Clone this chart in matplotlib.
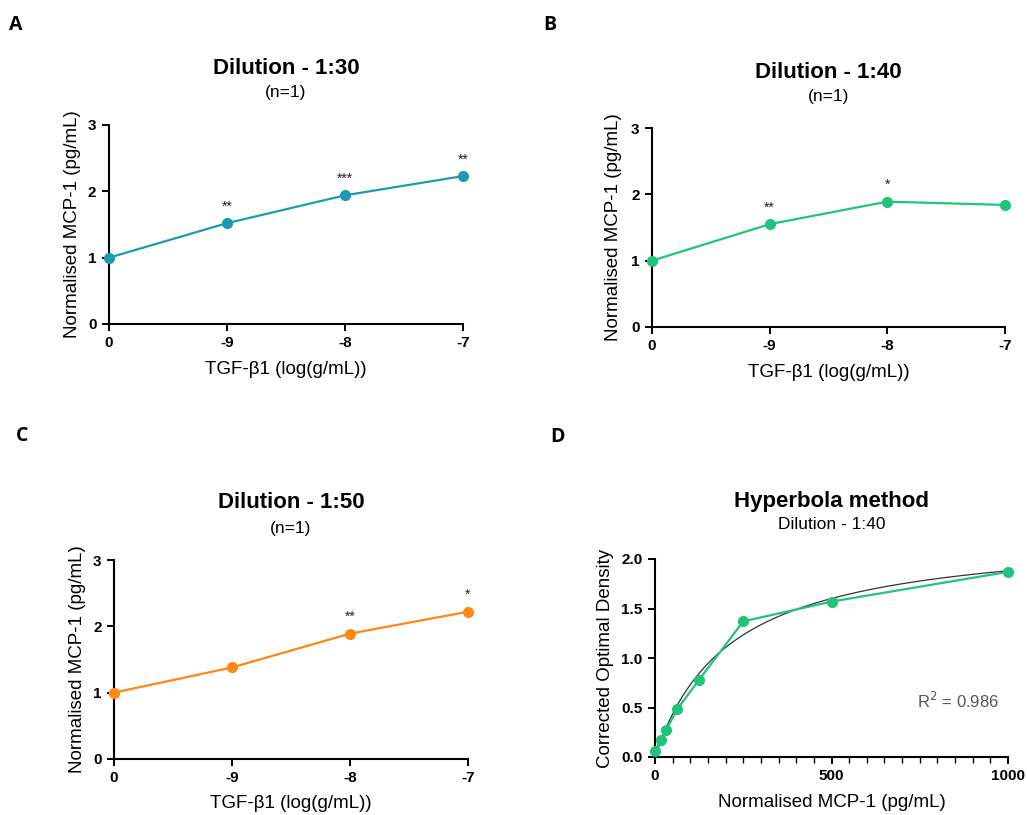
import numpy as np
import matplotlib
matplotlib.use("Agg")
import matplotlib.pyplot as plt
from matplotlib.ticker import MultipleLocator

plt.rcParams['font.family'] = ['Liberation Sans', 'DejaVu Sans']

# ---------------- data ----------------
tgf_labels = ["0", "-9", "-8", "-7"]
mcp_1_30 = [1.00, 1.52, 1.94, 2.23]
mcp_1_40 = [1.00, 1.55, 1.89, 1.84]
mcp_1_50 = [1.00, 1.38, 1.89, 2.22]
stars_1_30 = ["", "**", "***", "**"]
stars_1_40 = ["", "**", "*", ""]
stars_1_50 = ["", "", "**", "*"]

std_conc = [0, 15.6, 31.25, 62.5, 125, 250, 500, 1000]
std_od = [0.06, 0.17, 0.27, 0.48, 0.78, 1.37, 1.57, 1.87]
hyp_bmax = 2.28
hyp_kd = 212.0
r_squared = 0.986

W, H = 1027, 815
fig = plt.figure(figsize=(W / 100, H / 100), dpi=100)


def px_axes(x0, y0, x1, y1):
    # x0,y0 top-left ; x1,y1 bottom-right in pixel coords
    return fig.add_axes([x0 / W, 1 - y1 / H, (x1 - x0) / W, (y1 - y0) / H])


def style_axes(ax):
    for s in ['top', 'right']:
        ax.spines[s].set_visible(False)
    for s in ['left', 'bottom']:
        ax.spines[s].set_linewidth(1.5)
    ax.tick_params(axis='both', which='major', width=1.4, length=5, labelsize=11, pad=4)
    for lab in ax.get_xticklabels() + ax.get_yticklabels():
        lab.set_fontweight('bold')


def dose_panel(box, vals, stars, color, title, ylab_x, xlab_y, title_y, sub_y):
    ax = px_axes(*box)
    x = np.arange(len(vals))
    ax.plot(x, vals, color=color, lw=1.6, marker='o', ms=7, clip_on=False, zorder=3)
    for xi, v, s in zip(x, vals, stars):
        if s:
            ax.annotate(s, (xi, v), xytext=(0, 12), textcoords='offset points',
                        ha='center', va='center', fontsize=10, color='#222222')
    ax.set_xlim(0, 3)
    ax.set_ylim(0, 3)
    ax.set_xticks(x)
    ax.set_xticklabels(tgf_labels)
    ax.set_yticks([0, 1, 2, 3])
    style_axes(ax)
    cx = (box[0] + box[2]) / 2
    fig.text(cx / W, 1 - title_y / H, title, ha='center', va='center',
             fontsize=16, fontweight='bold')
    fig.text(cx / W, 1 - sub_y / H, "(n=1)", ha='center', va='center', fontsize=12.5)
    fig.text(ylab_x / W, 1 - ((box[1] + box[3]) / 2) / H, "Normalised MCP-1 (pg/mL)",
             rotation=90, ha='center', va='center', fontsize=13.5)
    fig.text(cx / W, 1 - xlab_y / H, "TGF-\u03b21 (log(g/mL))", ha='center', va='center',
             fontsize=13.5)
    return ax


dose_panel((109, 125, 463, 324), mcp_1_30, stars_1_30, '#1b9ab6', "Dilution - 1:30",
           72.5, 369, 68, 93)
dose_panel((652, 128, 1005, 327), mcp_1_40, stars_1_40, '#20c47c', "Dilution - 1:40",
           614, 372.5, 72, 97)
dose_panel((114, 560, 468, 759), mcp_1_50, stars_1_50, '#ff8811', "Dilution - 1:50",
           77.5, 804, 503, 528)

# ---------------- panel D ----------------
box = (655, 559, 1008, 757)
axd = px_axes(*box)
xf = np.linspace(0, 1000, 400)
axd.plot(xf, hyp_bmax * xf / (hyp_kd + xf), color='#333333', lw=0.9, zorder=2)
axd.plot(std_conc, std_od, color='#20c47c', lw=1.6, marker='o', ms=7, clip_on=False, zorder=3)
axd.set_xlim(0, 1000)
axd.set_ylim(0, 2.0)
axd.set_xticks([0, 500, 1000])
axd.xaxis.set_minor_locator(MultipleLocator(50))
axd.set_yticks([0, 0.5, 1.0, 1.5, 2.0])
axd.set_yticklabels(["0.0", "0.5", "1.0", "1.5", "2.0"])
style_axes(axd)
axd.tick_params(axis='x', which='minor', width=1.0, length=4)
axd.text(742, 0.567, f"R$^2$ = {r_squared:.3f}",
         ha='left', va='center', fontsize=12, color='#555555')
cx = (box[0] + box[2]) / 2
fig.text(cx / W, 1 - 502 / H, "Hyperbola method", ha='center', va='center',
         fontsize=16, fontweight='bold')
fig.text(cx / W, 1 - 524.5 / H, "Dilution - 1:40", ha='center', va='center', fontsize=12.5)
fig.text(606 / W, 1 - ((box[1] + box[3]) / 2) / H, "Corrected Optimal Density",
         rotation=90, ha='center', va='center', fontsize=13.5)
fig.text(cx / W, 1 - 802.5 / H, "Normalised MCP-1 (pg/mL)", ha='center', va='center',
         fontsize=13.5)

# panel letters
for letter, (lx, ly) in zip("ABCD", [(16, 25), (550, 25), (22, 436), (558, 437)]):
    fig.text(lx / W, 1 - ly / H, letter, ha='center', va='center', fontsize=14,
             fontweight='bold', family=['Open Sans', 'DejaVu Sans'])

fig.savefig("out.png", dpi=100)
